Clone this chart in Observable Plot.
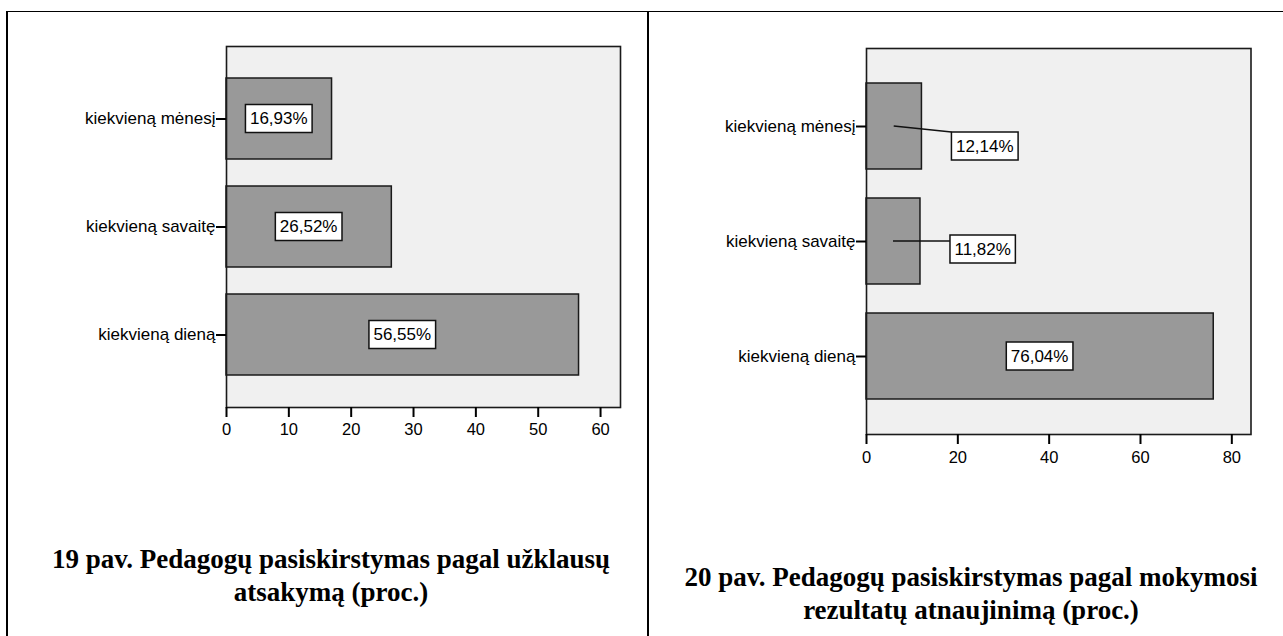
<!DOCTYPE html>
<html>
<head>
<meta charset="utf-8">
<script src="https://cdn.jsdelivr.net/npm/d3@7"></script>
<script src="https://cdn.jsdelivr.net/npm/@observablehq/plot@0.6"></script>
<style>
  body { margin: 0; background: #fff; }
  #page { position: relative; width: 1283px; height: 636px; overflow: hidden; background: #fff;
          font-family: "Liberation Sans", Arial, sans-serif; }
  .panel { position: absolute; top: 0; }
  .panel svg { background: transparent; }
  .vline { position: absolute; top: 11px; bottom: 0; width: 2px; background: #000; z-index: 2; }
  .hline { position: absolute; top: 11px; left: 6px; right: 0; height: 1px; background: #000; z-index: 2; }
  .caption { position: absolute; font-family: "Liberation Serif", "Times New Roman", serif; font-weight: bold;
             font-size: 27px; line-height: 33px; text-align: center; color: #000; white-space: nowrap; }
</style>
</head>
<body>
<div id="page">
  <div id="p1" class="panel" style="left:0px"></div>
  <div id="p2" class="panel" style="left:648px"></div>
  <div class="hline"></div>
  <div class="vline" style="left:6px"></div>
  <div class="vline" style="left:647px"></div>
  <div class="caption" id="c1" style="left:8px;width:646px;top:543px"></div>
  <div class="caption" id="c2" style="left:649px;width:644px;top:561px"></div>
</div>
<script>
// ---- data ----
const categories = ["kiekvieną mėnesį", "kiekvieną savaitę", "kiekvieną dieną"];
const valuesFig19 = [16.93, 26.52, 56.55];
const valuesFig20 = [12.14, 11.82, 76.04];
const ticksFig19 = [0, 10, 20, 30, 40, 50, 60];
const ticksFig20 = [0, 20, 40, 60, 80];
const captionFig19 = ["19 pav. Pedagogų pasiskirstymas pagal užklausų", "atsakymą (proc.)"];
const captionFig20 = ["20 pav. Pedagogų pasiskirstymas pagal mokymosi", "rezultatų atnaujinimą (proc.)"];

const fmt = v => v.toFixed(2).replace(".", ",") + "%";

const measureCtx = document.createElement("canvas").getContext("2d");
const LABEL_FONT_SIZE = 17;
measureCtx.font = LABEL_FONT_SIZE + "px 'Liberation Sans'";

function panel(values, ticks, opts) {
  const data = categories.map((c, i) => ({category: c, value: values[i]}));
  const leaderDy = [20, 8, 8]; // vertical shift of outside labels (style)

  const labels = (index, scales) => {
    const g = d3.create("svg:g");
    const x = scales.x, y = scales.y;
    const bw = y.bandwidth();
    data.forEach((d, i) => {
      const txt = fmt(d.value);
      const tw = measureCtx.measureText(txt).width;
      const boxW = tw + 9, boxH = 28;
      const x0 = x(0), x1 = x(d.value);
      const cy = y(d.category) + bw / 2;
      let bx, by;
      if (x1 - x0 > boxW + 10) {
        bx = (x0 + x1) / 2 - boxW / 2;
        by = cy - boxH / 2;
      } else {
        bx = x1 + 30;
        by = cy - boxH / 2 + leaderDy[i];
        const ly = Math.max(by, Math.min(cy, by + boxH));
        g.append("line")
          .attr("x1", (x0 + x1) / 2).attr("y1", cy)
          .attr("x2", bx).attr("y2", ly)
          .attr("stroke", "#111").attr("stroke-width", 1.5);
      }
      g.append("rect")
        .attr("x", bx).attr("y", by).attr("width", boxW).attr("height", boxH)
        .attr("fill", "#fff").attr("stroke", "#111").attr("stroke-width", 1.5);
      g.append("text")
        .attr("x", bx + boxW / 2).attr("y", by + boxH / 2)
        .attr("text-anchor", "middle").attr("dominant-baseline", "central")
        .attr("font-size", LABEL_FONT_SIZE).attr("fill", "#000")
        .text(txt);
    });
    return g.node();
  };

  return Plot.plot({
    width: opts.width,
    height: opts.height,
    marginLeft: opts.marginLeft,
    marginRight: opts.marginRight,
    marginTop: opts.marginTop,
    marginBottom: opts.marginBottom,
    style: {fontFamily: "'Liberation Sans', Arial, sans-serif", fontSize: "16px", background: "transparent", color: "#000"},
    x: {domain: [0, opts.xMax], ticks: ticks},
    y: {domain: categories, paddingInner: 0.25, paddingOuter: 0.295},
    marks: [
      Plot.frame({fill: "#f0f0f0", stroke: null}),
      Plot.barX(data, {x: "value", y: "category", fill: "#999999", stroke: "#1a1a1a", strokeWidth: 1.5}),
      Plot.frame({stroke: "#1a1a1a", strokeWidth: 1.6}),
      Plot.axisX({ticks: ticks, tickSize: 10, tickPadding: opts.tickPadding, fontSize: 16.5, strokeWidth: 2, stroke: "#000", label: null}),
      Plot.axisY({tickSize: 10, tickPadding: 1, fontSize: 17, strokeWidth: 2, stroke: "#000", label: null}),
      labels
    ]
  });
}

document.getElementById("p1").appendChild(panel(valuesFig19, ticksFig19, {
  width: 648, height: 470, marginLeft: 226, marginRight: 28, marginTop: 46, marginBottom: 63,
  xMax: 63.2, tickPadding: 6
}));
document.getElementById("p2").appendChild(panel(valuesFig20, ticksFig20, {
  width: 635, height: 480, marginLeft: 218, marginRight: 32.5, marginTop: 48, marginBottom: 46,
  xMax: 84.2, tickPadding: 7
}));

document.getElementById("c1").innerHTML = captionFig19.join("<br>");
document.getElementById("c2").innerHTML = captionFig20.join("<br>");
</script>
</body>
</html>
